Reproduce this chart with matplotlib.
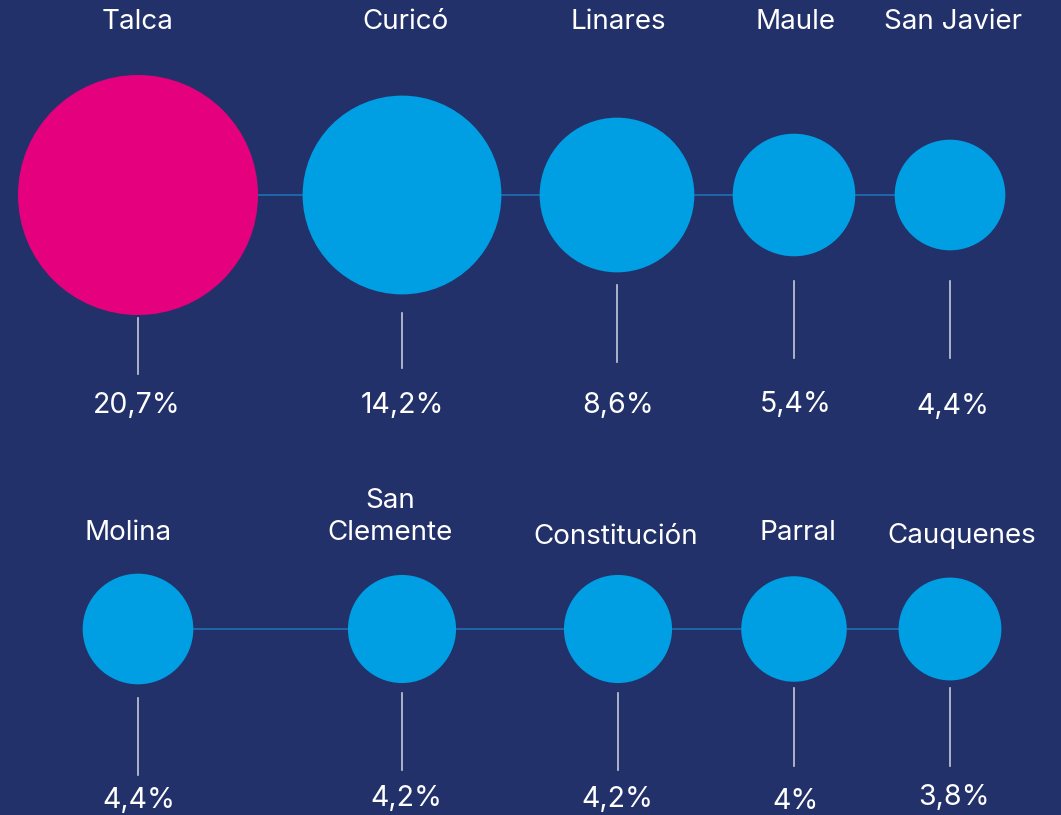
import matplotlib.pyplot as plt
from matplotlib.patches import Circle
import numpy as np

plt.rcParams['font.family'] = ['Inter', 'DejaVu Sans']

# data
names_top = ["Talca", "Curicó", "Linares", "Maule", "San Javier"]
values_top = [20.7, 14.2, 8.6, 5.4, 4.4]
labels_top = ["20,7%", "14,2%", "8,6%", "5,4%", "4,4%"]

names_bottom = ["Molina", "San\nClemente", "Constitución", "Parral", "Cauquenes"]
values_bottom = [4.4, 4.2, 4.2, 4.0, 3.8]
labels_bottom = ["4,4%", "4,2%", "4,2%", "4%", "3,8%"]

highlight = "Talca"

# layout (pixels)
xs = [[138, 402, 617, 794, 950], [138, 402, 618, 794, 950]]
name_x = [[138, 406, 618, 796, 953], [128, 390, 616, 798, 962]]
pct_x = [[137, 402, 618, 796, 953], [139, 406, 617, 796, 954]]
row_y = [195, 629]
name_y = [[29, 29, 29, 29, 29], [540, 540, 544, 540, 543]]
pct_y = [[413, 413, 413, 412, 414], [808, 806, 807, 809, 805]]
stem_top = [[318, 313, 285, 281, 281], [698, 693, 693, 688, 688]]
stem_bot = [[374, 368, 362, 358, 358], [775, 770, 770, 766, 766]]

BG = "#23316a"
PINK = "#e5007e"
BLUE = "#009fe3"
LINK = "#1f6fb3"
STEM = "#c5c9d8"

W, H = 1061, 815
fig = plt.figure(figsize=(W / 100, H / 100), dpi=100, facecolor=BG)
ax = fig.add_axes([0, 0, 1, 1])
ax.set_xlim(0, W)
ax.set_ylim(H, 0)
ax.set_aspect("equal")
ax.axis("off")
ax.set_facecolor(BG)

scale = 120 / np.sqrt(20.7)

rows = [(names_top, values_top, labels_top),
        (names_bottom, values_bottom, labels_bottom)]

for r, (names, values, labels) in enumerate(rows):
    y = row_y[r]
    ax.plot([xs[r][0], xs[r][-1]], [y, y], color=LINK, lw=1.2, zorder=1)
    for i, (n, v, lab) in enumerate(zip(names, values, labels)):
        x = xs[r][i]
        color = PINK if n == highlight else BLUE
        ax.add_patch(Circle((x, y), scale * np.sqrt(v), color=color, lw=0, zorder=2))
        ax.plot([x, x], [stem_top[r][i], stem_bot[r][i]], color=STEM, lw=1.2, zorder=1)
        ax.text(name_x[r][i], name_y[r][i], n, color="white", fontsize=20, ha="center",
                va="baseline", multialignment="center", linespacing=1.3)
        ax.text(pct_x[r][i], pct_y[r][i], lab, color="white", fontsize=20.5, ha="center",
                va="baseline")

fig.savefig("out.png", dpi=100, facecolor=BG)
